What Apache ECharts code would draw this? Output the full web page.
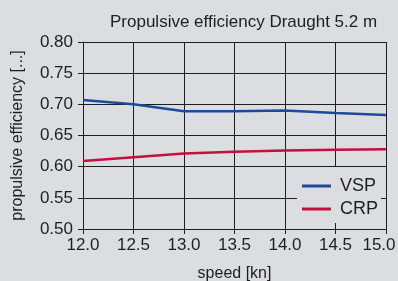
<!DOCTYPE html>
<html>
<head>
<meta charset="utf-8">
<script src="https://cdn.jsdelivr.net/npm/echarts@6/dist/echarts.min.js"></script>
<style>
  html, body { margin: 0; padding: 0; background: #dcdde0; }
  #chart { width: 398px; height: 281px; }
</style>
</head>
<body>
<div id="chart"></div>
<script>
// speed [kn]
const speeds = [12.0, 12.5, 13.0, 13.5, 14.0, 14.5, 15.0];
// propulsive efficiency
const vsp = [0.707, 0.700, 0.689, 0.689, 0.690, 0.686, 0.683];
const crp = [0.609, 0.615, 0.621, 0.624, 0.626, 0.627, 0.628];

const font = '"Liberation Sans Narrow", "Liberation Sans", Arial, sans-serif';
const ink = '#1e1e1e';

function pairs(ys) {
    return speeds.map(function (x, i) { return [x, ys[i]]; });
}

const chart = echarts.init(document.getElementById('chart'));
chart.setOption({
    backgroundColor: '#dcdde0',
    animation: false,
    textStyle: { fontFamily: font, color: ink },
    title: {
        text: 'Propulsive efficiency Draught 5.2 m',
        left: 105,
        top: 9,
        textStyle: { fontFamily: font, fontSize: 17, fontWeight: 'normal', color: ink }
    },
    grid: { left: 83, right: 12, top: 42, bottom: 52, containLabel: false, outerBoundsMode: 'none' },
    legend: {
        data: ['VSP', 'CRP'],
        orient: 'vertical',
        left: 297,
        top: 167,
        padding: [10, 3, 5, 5],
        itemGap: 5,
        itemWidth: 29,
        itemHeight: 3,
        icon: 'rect',
        backgroundColor: '#dcdde0',
        textStyle: { fontFamily: font, fontSize: 18, color: ink, padding: [0, 0, 0, 4] }
    },
    xAxis: {
        type: 'value',
        min: 12,
        max: 15,
        interval: 0.5,
        name: 'speed [kn]',
        nameLocation: 'middle',
        nameGap: 37,
        nameTextStyle: { fontFamily: font, fontSize: 16, color: ink },
        axisLine: { lineStyle: { color: ink, width: 1 } },
        axisTick: { show: true, length: 5, lineStyle: { color: ink } },
        axisLabel: {
            fontFamily: font, fontSize: 17, color: ink, margin: 8,
            formatter: function (v) {
                // the last label is nudged left so it stays inside the picture
                return v === 15 ? '{last|' + v.toFixed(1) + '}' : v.toFixed(1);
            },
            rich: {
                last: { fontFamily: font, fontSize: 17, color: ink, padding: [0, 14, 0, 0] }
            }
        },
        splitLine: { show: true, lineStyle: { color: ink, width: 1 } }
    },
    yAxis: {
        type: 'value',
        min: 0.5,
        max: 0.8,
        interval: 0.05,
        name: 'propulsive efficiency [...]',
        nameLocation: 'middle',
        nameGap: 57,
        nameTextStyle: { fontFamily: font, fontSize: 16, color: ink },
        axisLine: { show: true, lineStyle: { color: ink, width: 1 } },
        axisTick: { show: true, length: 5, lineStyle: { color: ink } },
        axisLabel: {
            fontFamily: font, fontSize: 17, color: ink, margin: 10,
            formatter: function (v) { return v.toFixed(2); }
        },
        splitLine: { show: true, lineStyle: { color: ink, width: 1 } }
    },
    series: [
        {
            name: 'VSP',
            type: 'line',
            data: pairs(vsp),
            symbol: 'none',
            color: '#1d4b9b',
            lineStyle: { width: 2.5, color: '#1d4b9b' }
        },
        {
            name: 'CRP',
            type: 'line',
            data: pairs(crp),
            symbol: 'none',
            color: '#c50f40',
            lineStyle: { width: 2.5, color: '#c50f40' }
        }
    ]
});
</script>
</body>
</html>
